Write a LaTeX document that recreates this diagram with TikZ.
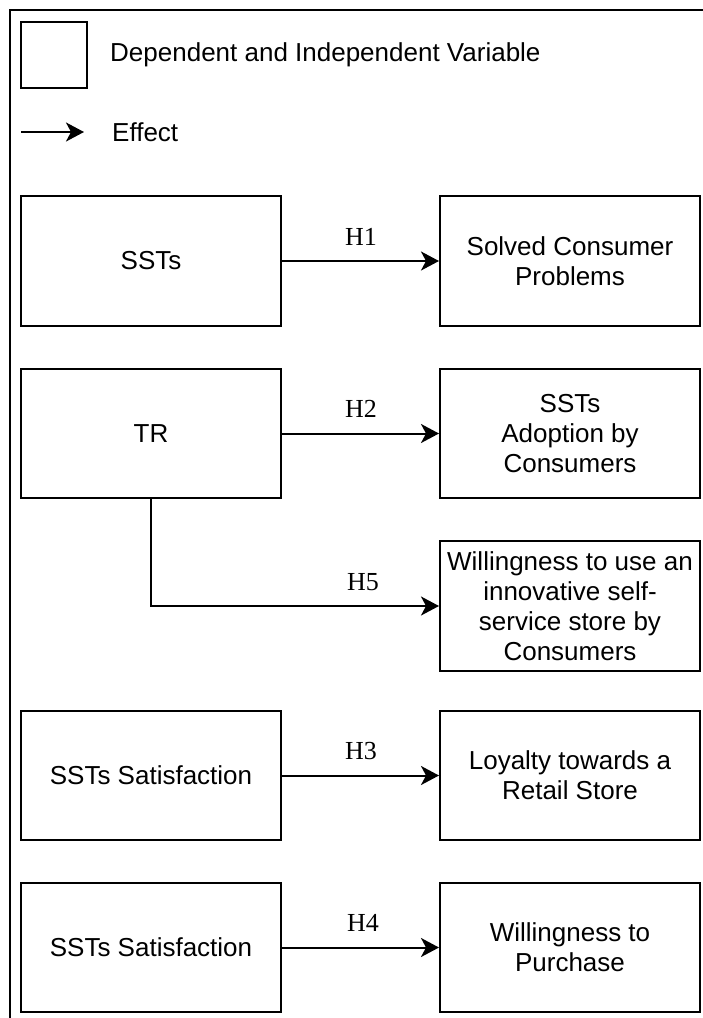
\documentclass[tikz,border=0pt]{standalone}
\usepackage{fontspec}
\setmainfont{Liberation Sans}
\newfontfamily\hlabelfont{Liberation Serif}
\usetikzlibrary{arrows.meta}
\tikzset{
  varbox/.style={draw=black, line width=2pt, minimum width=260pt, minimum height=130pt, align=center, inner sep=2pt, font=\fontsize{26}{30}\selectfont},
  effect/.style={draw=black, line width=2pt, -{Stealth[length=18pt,width=19pt,inset=5pt]}},
  hlabel/.style={font=\hlabelfont\fontsize{26}{30}\selectfont, inner sep=0pt},
  legendtext/.style={font=\fontsize{26}{30}\selectfont, anchor=west, inner sep=0pt}
}
\begin{document}
\begin{tikzpicture}[x=1pt,y=-1pt]
\useasboundingbox (0,0) rectangle (702,1018);
% outer frame
\draw[line width=2pt] (10,1030) -- (10,10) -- (720,10);
% legend
\node[draw=black, line width=2pt, minimum width=66pt, minimum height=66pt, inner sep=0pt] (lsq) at (54,55) {};
\node[legendtext] (ltxt) at (110,55) {Dependent and Independent Variable};
\coordinate (la) at (21,132);
\coordinate (lb) at (84,132);
\draw[effect] (la) -- (lb);
\node[legendtext] (leff) at (112,132) {Effect};
% row 1
\node[varbox] (l1) at (151,261) {SSTs};
\node[varbox] (r1) at (570,261) {Solved Consumer\\Problems};
\draw[effect] (l1.east) -- (r1.west);
\node[hlabel] (h1) at (361,237) {H1};
% row 2
\node[varbox, minimum height=129pt] (l2) at (151,433.5) {TR};
\node[varbox, minimum height=129pt] (r2) at (570,433.5) {SSTs\\Adoption by\\Consumers};
\draw[effect] (l2.east) -- (r2.west);
\node[hlabel] (h2) at (361,409) {H2};
% H5
\node[varbox] (r5) at (570,606) {Willingness to use an\\innovative self-\\service store by\\Consumers};
\draw[effect] (l2.south) |- (r5.west);
\node[hlabel] (h5) at (363,582) {H5};
% row 3
\node[varbox, minimum height=129pt] (l3) at (151,775.5) {SSTs Satisfaction};
\node[varbox, minimum height=129pt] (r3) at (570,775.5) {Loyalty towards a\\Retail Store};
\draw[effect] (l3.east) -- (r3.west);
\node[hlabel] (h3) at (361,751) {H3};
% row 4
\node[varbox, minimum height=129pt] (l4) at (151,947.5) {SSTs Satisfaction};
\node[varbox, minimum height=129pt] (r4) at (570,947.5) {Willingness to\\Purchase};
\draw[effect] (l4.east) -- (r4.west);
\node[hlabel] (h4) at (363,923) {H4};
\end{tikzpicture}
\end{document}
